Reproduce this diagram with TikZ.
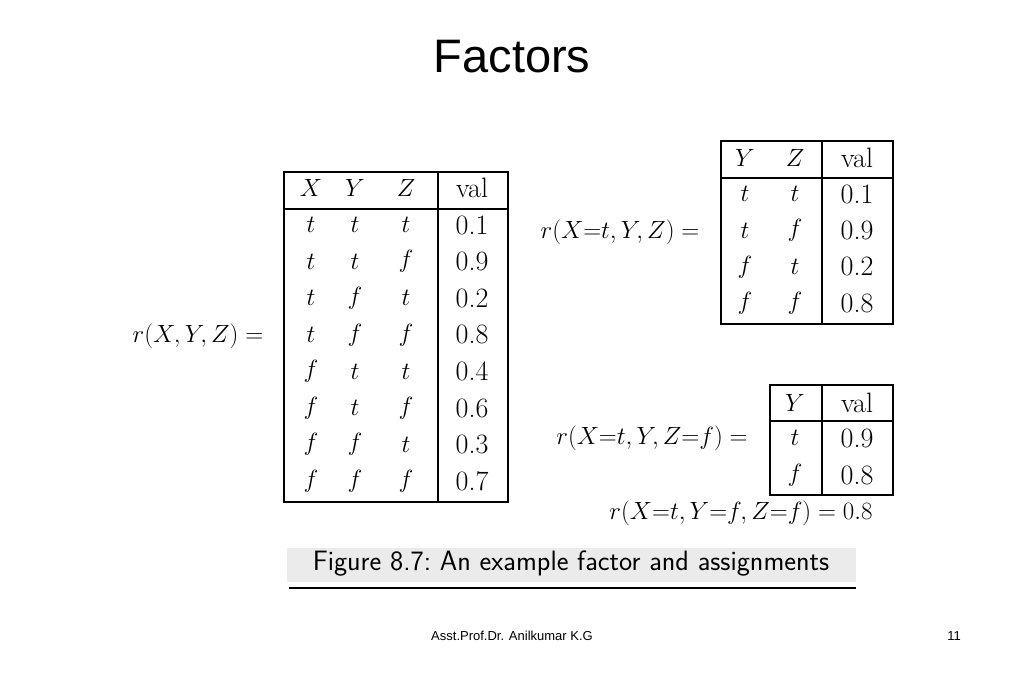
\documentclass[tikz,border=0pt]{standalone}
\usepackage{fontspec}
\newfontfamily\arialf{Liberation Sans}
\begin{document}
\begin{tikzpicture}[x=1pt,y=-1pt,
  tb/.style={font=\fontsize{28}{30}\selectfont},
  ln/.style={line width=1.2pt}]
\useasboundingbox (0,0) rectangle (1024,683);
\node[font=\arialf\fontsize{47}{50}\selectfont] (title) at (512,57) {Factors};
% table 1
\draw[ln] (284,172) rectangle (508,502);
\draw[ln] (284,209) -- (508,209);
\draw[ln] (438,172) -- (438,502);
\foreach \x/\s in {311/X,355/Y,406/Z} \node[tb] at (\x,188) {$\s$};
\node[tb] at (472,188) {val};
\foreach \a/\b/\c/\v [count=\i] in {t/t/t/0.1,t/t/f/0.9,t/f/t/0.2,t/f/f/0.8,f/t/t/0.4,f/t/f/0.6,f/f/t/0.3,f/f/f/0.7}{
  \pgfmathsetmacro\yy{225+36.6*(\i-1)}
  \node[tb] at (311,\yy) {$\a$};
  \node[tb] at (355,\yy) {$\b$};
  \node[tb] at (406,\yy) {$\c$};
  \node[tb] at (472,\yy) {\v};
}
\node[tb] (r1) at (198,336) {$r(X,Y,Z) =$};
% table 2
\draw[ln] (721,141) rectangle (893,324);
\draw[ln] (721,178) -- (893,178);
\draw[ln] (822,141) -- (822,324);
\node[tb] at (745,158) {$Y$};
\node[tb] at (795,158) {$Z$};
\node[tb] at (857,158) {val};
\foreach \a/\b/\v [count=\i] in {t/t/0.1,t/f/0.9,f/t/0.2,f/f/0.8}{
  \pgfmathsetmacro\yy{194+36.4*(\i-1)}
  \node[tb] at (745,\yy) {$\a$};
  \node[tb] at (795,\yy) {$\b$};
  \node[tb] at (857,\yy) {\v};
}
\node[tb] (r2) at (620,232) {$r(X{=}t,Y,Z) =$};
% table 3
\draw[ln] (770,385) rectangle (893,495);
\draw[ln] (770,421) -- (893,421);
\draw[ln] (822,385) -- (822,495);
\node[tb] at (795,403) {$Y$};
\node[tb] at (857,403) {val};
\node[tb] at (795,438) {$t$};
\node[tb] at (857,438) {0.9};
\node[tb] at (795,475) {$f$};
\node[tb] at (857,475) {0.8};
\node[tb] (r3) at (652,438) {$r(X{=}t,Y,Z{=}f) =$};
\node[tb] (r4) at (741,513) {$r(X{=}t,Y{=}f,Z{=}f) = 0.8$};
% caption
\fill[black!8] (287,548) rectangle (856,582);
\node[font=\sffamily\fontsize{28}{30}\selectfont] (cap) at (571,564) {Figure 8.7:\ An example factor and assignments};
\draw[line width=2.5pt] (289,588) -- (856,588);
% footer
\node[font=\arialf\fontsize{13}{15}\selectfont] (ft) at (512,636) {Asst.Prof.Dr. Anilkumar K.G};
\node[font=\arialf\fontsize{13}{15}\selectfont] (pg) at (954,636) {11};
\end{tikzpicture}
\end{document}
